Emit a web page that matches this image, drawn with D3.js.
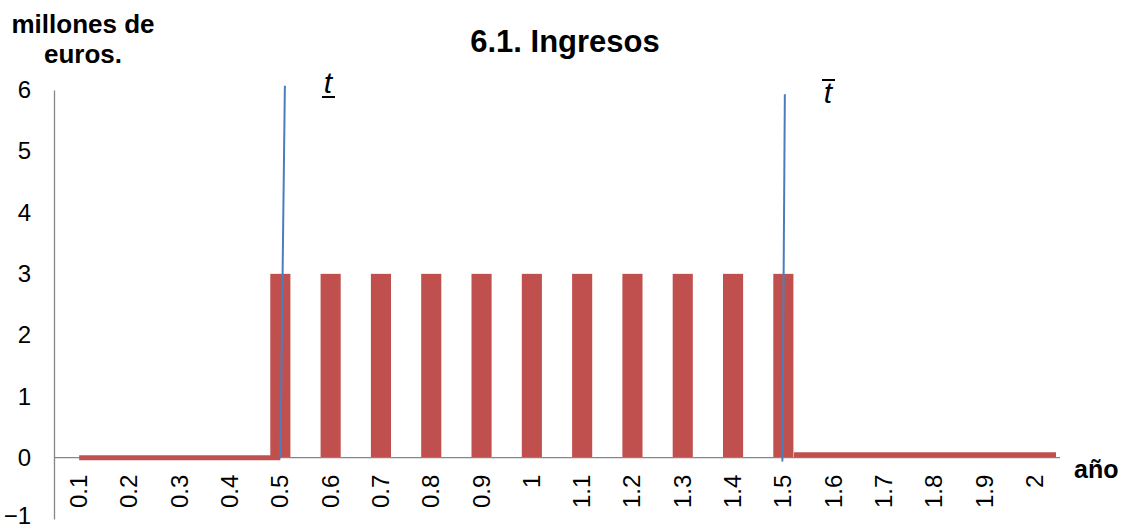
<!DOCTYPE html>
<html>
<head>
<meta charset="utf-8">
<script src="https://cdn.jsdelivr.net/npm/d3@7/dist/d3.min.js"></script>
<style>
  html, body { margin: 0; padding: 0; background: #fff; }
  svg { display: block; }
  text { font-family: "Liberation Sans", Arial, sans-serif; fill: #000; }
</style>
</head>
<body>
<svg id="chart" width="1127" height="529"></svg>
<script>
// Years on the horizontal axis
const years = [0.1, 0.2, 0.3, 0.4, 0.5, 0.6, 0.7, 0.8, 0.9, 1, 1.1, 1.2, 1.3, 1.4, 1.5, 1.6, 1.7, 1.8, 1.9, 2];
const yearLabels = ["0.1", "0.2", "0.3", "0.4", "0.5", "0.6", "0.7", "0.8", "0.9", "1", "1.1", "1.2", "1.3", "1.4", "1.5", "1.6", "1.7", "1.8", "1.9", "2"];
// Income per period (millones de euros)
const ingresos = [0, 0, 0, 0, 3, 3, 3, 3, 3, 3, 3, 3, 3, 3, 3, 0, 0, 0, 0, 0];
// Flat income stretches before and after the active period [year, value]
const tramoInicial = [[0.1, 0], [0.5, 0]];
const tramoFinal = [[1.521, 0.05], [2.042, 0.05]];
// Marker lines for the lower and upper limits [year, value]
const limiteInferior = [[0.509, 6.07], [0.5, 0]];
const limiteSuperior = [[1.503, 5.93], [1.498, -0.06]];
const yTicks = [-1, 0, 1, 2, 3, 4, 5, 6];

const svg = d3.select("#chart");
const plotLeft = 54, plotRight = 1060, plotTop = 90, plotBottom = 519;

const x = d3.scaleBand().domain(yearLabels).range([plotLeft, plotRight]).paddingInner(0.6).paddingOuter(0.3);
const y = d3.scaleLinear().domain([-1, 6]).range([plotBottom, plotTop]);
const xc = lbl => x(lbl) + x.bandwidth() / 2;
const xYear = d3.scaleLinear().domain([years[0], years[years.length - 1]])
  .range([xc(yearLabels[0]), xc(yearLabels[yearLabels.length - 1])]);

const red = "#c0504d", blue = "#4a7ebb", axisGray = "#868686";

// Bars
svg.append("g").selectAll("rect")
  .data(ingresos.map((v, i) => ({ v, k: yearLabels[i] })).filter(d => d.v !== 0))
  .join("rect")
  .attr("x", d => x(d.k))
  .attr("width", x.bandwidth())
  .attr("y", d => y(d.v))
  .attr("height", d => y(0) - y(d.v))
  .attr("fill", red);

// Axes
const yAxis = d3.axisLeft(y).tickValues(yTicks).tickSize(0).tickPadding(23).tickFormat(d3.format("d"));
const gy = svg.append("g").attr("transform", `translate(${plotLeft},0)`).call(yAxis);
gy.select(".domain").attr("stroke", axisGray).attr("stroke-width", 1.3);
gy.selectAll("text").attr("font-size", 24).attr("font-family", "Liberation Sans, Arial, sans-serif");
gy.selectAll(".tick").filter(d => d === -1).select("text").attr("dy", "0.2em");

const xAxis = d3.axisBottom(x).tickSize(0).tickFormat(d => d);
const gx = svg.append("g").attr("transform", `translate(0,${y(0)})`).call(xAxis);
gx.select(".domain").attr("stroke", axisGray).attr("stroke-width", 1.3).attr("d", `M${plotLeft},0H${plotRight}`);
gx.selectAll("text")
  .attr("font-size", 24)
  .attr("font-family", "Liberation Sans, Arial, sans-serif")
  .attr("text-anchor", "end")
  .attr("dy", null)
  .attr("y", null)
  .attr("transform", "translate(8,17) rotate(-90)");

// Flat stretches near zero
const line = d3.line().x(d => xYear(d[0])).y(d => y(d[1]));
svg.append("path").attr("d", line(tramoInicial)).attr("stroke", red).attr("stroke-width", 5).attr("fill", "none");
svg.append("path").attr("d", line(tramoFinal)).attr("stroke", red).attr("stroke-width", 5).attr("fill", "none");

// Limit markers
svg.append("path").attr("d", line(limiteInferior)).attr("stroke", blue).attr("stroke-width", 2).attr("fill", "none");
svg.append("path").attr("d", line(limiteSuperior)).attr("stroke", blue).attr("stroke-width", 2).attr("fill", "none");

const tFont = "Liberation Serif, 'Times New Roman', serif";
svg.append("text").attr("x", 328).attr("y", 93).attr("text-anchor", "middle")
  .attr("font-family", tFont).attr("font-style", "italic").attr("font-size", 30).text("t");
svg.append("line").attr("x1", 322).attr("x2", 335).attr("y1", 97).attr("y2", 97).attr("stroke", "#000").attr("stroke-width", 2);
svg.append("text").attr("x", 828).attr("y", 103).attr("text-anchor", "middle")
  .attr("font-family", tFont).attr("font-style", "italic").attr("font-size", 30).text("t");
svg.append("line").attr("x1", 822).attr("x2", 835).attr("y1", 80).attr("y2", 80).attr("stroke", "#000").attr("stroke-width", 2);

// Titles
svg.append("text").attr("x", 565).attr("y", 52).attr("text-anchor", "middle")
  .attr("font-weight", "bold").attr("font-size", 31).text("6.1. Ingresos");
svg.append("text").attr("x", 83).attr("y", 33).attr("text-anchor", "middle")
  .attr("font-weight", "bold").attr("font-size", 26).text("millones de");
svg.append("text").attr("x", 83).attr("y", 63).attr("text-anchor", "middle")
  .attr("font-weight", "bold").attr("font-size", 26).text("euros.");
svg.append("text").attr("x", 1074).attr("y", 478)
  .attr("font-weight", "bold").attr("font-size", 25).text("año");
</script>
</body>
</html>
